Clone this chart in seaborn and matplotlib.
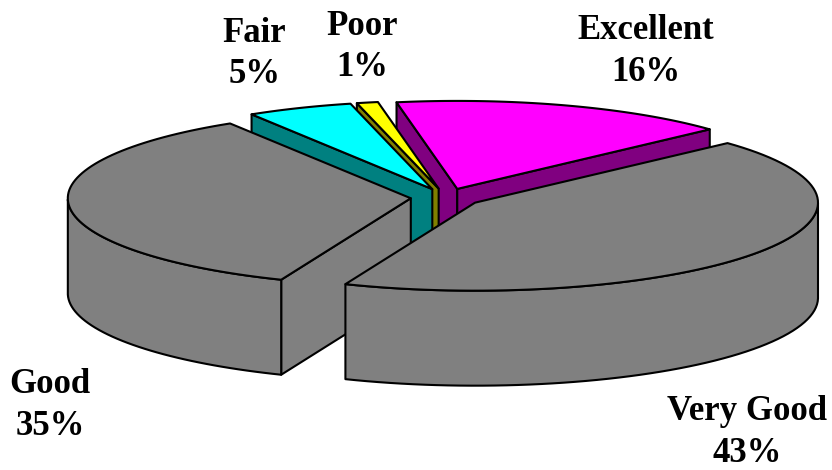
import numpy as np
import matplotlib
matplotlib.use('Agg')
import matplotlib.pyplot as plt
from matplotlib.patches import Polygon
import seaborn as sns

###
#   DATA
###
labels = ['Excellent', 'Very Good', 'Good', 'Fair', 'Poor']
values = [16, 43, 35, 5, 1]
top_colors = ['#ff00ff', '#808080', '#808080', '#00ffff', '#ffff00']
side_colors = ['#800080', '#808080', '#808080', '#008080', '#808000']

###
#   PIE GEOMETRY (pixels of the 832x470 picture)
###
CX, CY = 446, 197.5
RX, RY = 343, 88
DEPTH = 95
EXPLODE = 0.103
START = -10.2

label_pos = {'Excellent': (646, 51.5), 'Very Good': (747, 432.5), 'Good': (50, 405.5),
             'Fair': (254.5, 54), 'Poor': (362, 47)}

sns.set_theme(style='white')
plt.rcParams['font.family'] = ['Liberation Serif', 'DejaVu Serif']

fig = plt.figure(figsize=(8.32, 4.70), dpi=100)
ax = fig.add_axes([0, 0, 1, 1])
ax.set_xlim(0, 832)
ax.set_ylim(470, 0)
ax.axis('off')

# slice angles, clockwise from 12 o'clock
edges = START + np.cumsum([0] + values) * 3.6
slices = {}
for i, name in enumerate(labels):
    a0, a1 = np.radians(edges[i]), np.radians(edges[i + 1])
    mid = (a0 + a1) / 2
    ox = CX + EXPLODE * RX * np.sin(mid)
    oy = CY - EXPLODE * RY * np.cos(mid)
    t = np.linspace(a0, a1, 80)
    slices[name] = (ox, oy, ox + RX * np.sin(t), oy - RY * np.cos(t), t, i)


def draw_slice(name, z):
    ox, oy, xs, ys, t, i = slices[name]
    line = dict(edgecolor='black', linewidth=1.5, joinstyle='round')
    # cut faces, only those turned to the viewer
    faces = []
    if np.sin(t[0]) < 0:
        faces.append(0)
    if np.sin(t[-1]) > 0:
        faces.append(-1)
    for k in faces:
        pts = [(ox, oy), (xs[k], ys[k]), (xs[k], ys[k] + DEPTH), (ox, oy + DEPTH)]
        ax.add_patch(Polygon(pts, facecolor=side_colors[i], zorder=z, **line))
    # outer wall, same thing
    front = np.cos(t) < 0
    if front.any():
        x_f, y_f = xs[front], ys[front]
        pts = list(zip(x_f, y_f)) + list(zip(x_f[::-1], y_f[::-1] + DEPTH))
        ax.add_patch(Polygon(pts, facecolor=side_colors[i], zorder=z, **line))
    # top
    pts = [(ox, oy)] + list(zip(xs, ys))
    ax.add_patch(Polygon(pts, facecolor=top_colors[i], zorder=z, **line))


# back slices first, the big grey ones cover them
for z, name in enumerate(['Excellent', 'Poor', 'Fair', 'Good', 'Very Good']):
    draw_slice(name, z + 2)

for name, val in zip(labels, values):
    x, y = label_pos[name]
    ax.text(x, y, '{}\n{}%'.format(name, val), ha='center', va='center',
            fontsize=25, fontweight='bold', color='black', linespacing=1.33, zorder=10)

fig.savefig('out.png', dpi=100, facecolor='white')
